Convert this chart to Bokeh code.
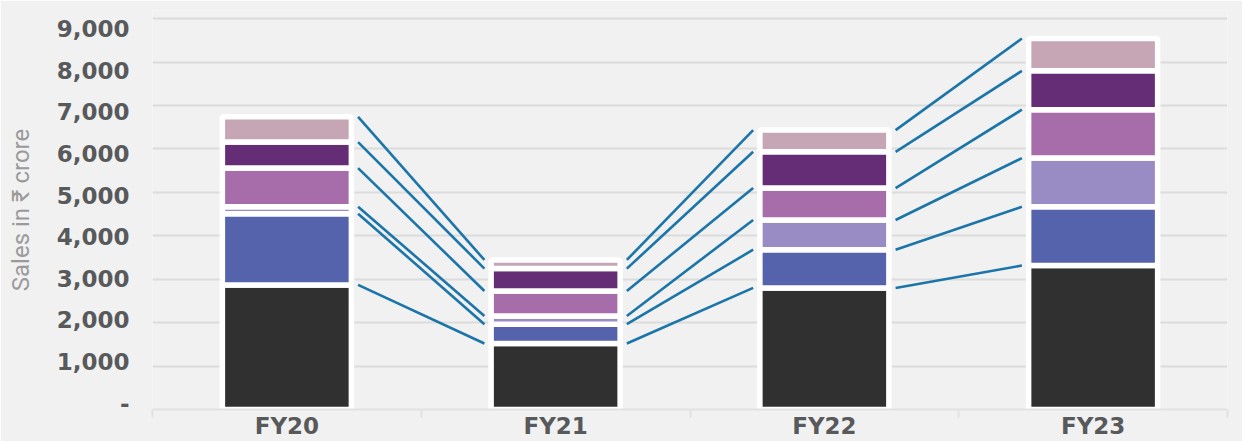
from bokeh.plotting import figure
from bokeh.models import (ColumnDataSource, Range1d, LinearAxis, FixedTicker,
                          NumeralTickFormatter)
from bokeh.embed import file_html
from bokeh.resources import INLINE

# Sales by segment, in ₹ crore
categories = ["FY20", "FY21", "FY22", "FY23"]
segments = ["s1", "s2", "s3", "s4", "s5", "s6"]
s1 = [2870, 1520, 2800, 3315]
s2 = [1640, 445, 880, 1355]
s3 = [160, 190, 685, 1120]
s4 = [890, 575, 735, 1115]
s5 = [600, 515, 835, 895]
s6 = [580, 200, 500, 745]
colors = ["#303030", "#5562AC", "#998CC4", "#A66DAA", "#652D75", "#C6A5B5"]
y_ticks = [0, 1000, 2000, 3000, 4000, 5000, 6000, 7000, 8000, 9000]

series = [s1, s2, s3, s4, s5, s6]
xs = [i + 0.5 for i in range(len(categories))]
data = {"x": xs}
for name, vals in zip(segments, series):
    data[name] = vals
source = ColumnDataSource(data)

p = figure(width=1242, height=441, output_backend="svg", toolbar_location=None,
           x_range=Range1d(0, len(categories)), y_range=Range1d(0, 9190),
           x_axis_type=None, y_axis_type=None,
           min_border_left=152, min_border_right=15,
           min_border_top=10, min_border_bottom=31)
p.background_fill_color = "#F1F1F1"
p.border_fill_color = "#F1F1F1"
p.outline_line_color = None

# the value labels sit on a slightly tighter scale than the gridlines
p.extra_y_ranges = {"labels": Range1d(-150, 9431)}

yaxis = LinearAxis(y_range_name="labels", ticker=FixedTicker(ticks=y_ticks),
                   formatter=NumeralTickFormatter(format="0,0"))
yaxis.major_label_overrides = {0: "-"}
yaxis.axis_line_color = None
yaxis.major_tick_line_color = None
yaxis.minor_tick_line_color = None
yaxis.major_tick_out = 0
yaxis.major_tick_in = 0
yaxis.major_label_standoff = 23
yaxis.major_label_text_font = "DejaVu Sans"
yaxis.major_label_text_font_style = "bold"
yaxis.major_label_text_font_size = "23px"
yaxis.major_label_text_color = "#58595B"
yaxis.axis_label = "Sales in ₹ crore"
yaxis.axis_label_text_font = "Roboto"
yaxis.axis_label_text_font_style = "normal"
yaxis.axis_label_text_font_size = "24px"
yaxis.axis_label_text_color = "#9A9A9A"
yaxis.axis_label_standoff = 19
p.add_layout(yaxis, "left")

# x axis: year labels at centres, separator ticks between categories
xaxis = LinearAxis(ticker=FixedTicker(ticks=xs,
                                      minor_ticks=list(range(len(categories) + 1))))
xaxis.major_label_overrides = {x: c for x, c in zip(xs, categories)}
xaxis.axis_line_color = "#E2E2E2"
xaxis.axis_line_width = 2
xaxis.major_tick_line_color = None
xaxis.major_tick_out = 0
xaxis.major_tick_in = 0
xaxis.minor_tick_line_color = "#E2E2E2"
xaxis.minor_tick_line_width = 2
xaxis.minor_tick_in = 0
xaxis.minor_tick_out = 8
xaxis.major_label_standoff = -5
xaxis.major_label_text_font = "DejaVu Sans"
xaxis.major_label_text_font_style = "bold"
xaxis.major_label_text_font_size = "23px"
xaxis.major_label_text_color = "#58595B"
p.add_layout(xaxis, "below")

# horizontal gridlines
p.ygrid.grid_line_color = None
grid_source = ColumnDataSource({"y": y_ticks[1:]})
p.hspan(y="y", source=grid_source, line_color="#DCDCDC", line_width=2)

# stacked bars with white separators
p.vbar_stack(segments, x="x", width=0.48, source=source, color=colors,
             line_color="white", line_width=5.5)

# connector lines between the running totals of neighbouring bars
gap = 0.265
x0, x1, y0, y1 = [], [], [], []
running = [0] * len(categories)
for vals in series:
    running = [r + v for r, v in zip(running, vals)]
    for i in range(len(categories) - 1):
        x0.append(xs[i] + gap)
        x1.append(xs[i + 1] - gap)
        y0.append(running[i])
        y1.append(running[i + 1])
p.segment(x0=x0, y0=y0, x1=x1, y1=y1, line_color="#1B75A8", line_width=2.6)

open("out.html", "w").write(file_html(p, INLINE))
